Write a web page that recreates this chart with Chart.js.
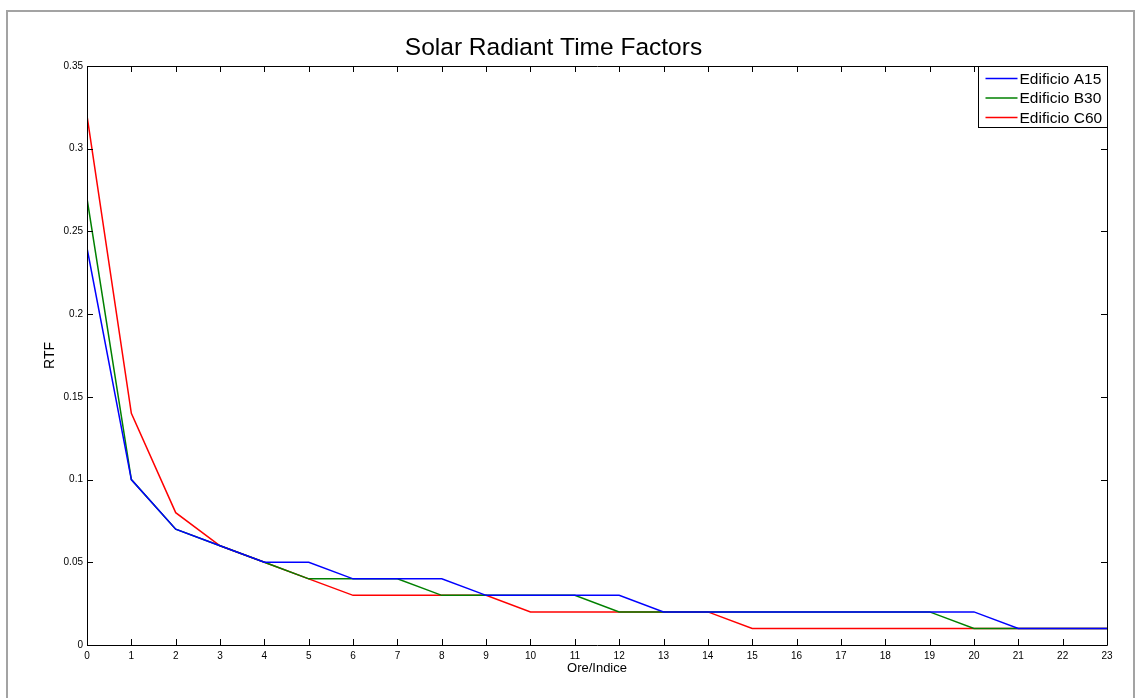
<!DOCTYPE html>
<html>
<head>
<meta charset="utf-8">
<script src="https://cdn.jsdelivr.net/npm/chart.js@4.4.1/dist/chart.umd.min.js"></script>
<style>
    body { margin: 0; background: #fff; }
    #frame { position: absolute; left: 6px; top: 10px; width: 1129px; height: 700px; border: 2px solid #a3a3a3; box-sizing: border-box; }
    #wrap { position: absolute; left: 0; top: 0; width: 1139px; height: 698px; }
</style>
</head>
<body>
<div id="frame"></div>
<div id="wrap"><canvas id="rtfChart" width="1139" height="698"></canvas></div>
<script>
const ore = [0,1,2,3,4,5,6,7,8,9,10,11,12,13,14,15,16,17,18,19,20,21,22,23];
const edificioA15 = [0.24,0.10,0.07,0.06,0.05,0.05,0.04,0.04,0.04,0.03,0.03,0.03,0.03,0.02,0.02,0.02,0.02,0.02,0.02,0.02,0.02,0.01,0.01,0.01];
const edificioB30 = [0.27,0.10,0.07,0.06,0.05,0.04,0.04,0.04,0.03,0.03,0.03,0.03,0.02,0.02,0.02,0.02,0.02,0.02,0.02,0.02,0.01,0.01,0.01,0.01];
const edificioC60 = [0.32,0.14,0.08,0.06,0.05,0.04,0.03,0.03,0.03,0.03,0.02,0.02,0.02,0.02,0.02,0.01,0.01,0.01,0.01,0.01,0.01,0.01,0.01,0.01];
const yTicks = [0, 0.05, 0.1, 0.15, 0.2, 0.25, 0.3, 0.35];

const font = 'Liberation Sans, Arial, sans-serif';

function serie(valori) {
    return ore.map((h, i) => ({ x: h, y: valori[i] }));
}

// box, inward ticks on all sides and legend, matlab style
const matlabBox = {
    id: 'matlabBox',
    afterDatasetsDraw(chart) {
        const ctx = chart.ctx;
        const a = chart.chartArea;
        const xs = chart.scales.x, ys = chart.scales.y;
        ctx.save();
        ctx.strokeStyle = '#000';
        ctx.lineWidth = 1;
        ctx.beginPath();
        ctx.rect(Math.round(a.left) + 0.5, Math.round(a.top) + 0.5, Math.round(a.right - a.left), Math.round(a.bottom - a.top));
        ctx.stroke();
        const len = 6;
        ctx.beginPath();
        ore.forEach(h => {
            const px = Math.round(xs.getPixelForValue(h)) + 0.5;
            ctx.moveTo(px, a.bottom); ctx.lineTo(px, a.bottom - len);
            ctx.moveTo(px, a.top); ctx.lineTo(px, a.top + len);
        });
        yTicks.forEach(v => {
            const py = Math.round(ys.getPixelForValue(v)) + 0.5;
            ctx.moveTo(a.left, py); ctx.lineTo(a.left + len, py);
            ctx.moveTo(a.right, py); ctx.lineTo(a.right - len, py);
        });
        ctx.stroke();

        // legend
        const w = 129, h = 61;
        const lx = Math.round(a.right - w) + 0.5, ly = Math.round(a.top) + 0.5;
        ctx.fillStyle = '#fff';
        ctx.fillRect(lx, ly, w, h);
        ctx.strokeStyle = '#000';
        ctx.strokeRect(lx, ly, w, h);
        ctx.font = '15.5px ' + font;
        ctx.textBaseline = 'middle';
        chart.data.datasets.forEach((ds, i) => {
            const y = ly + 12 + i * 19.5;
            ctx.strokeStyle = ds.borderColor;
            ctx.lineWidth = 1.5;
            ctx.beginPath();
            ctx.moveTo(lx + 7, y); ctx.lineTo(lx + 39, y);
            ctx.stroke();
            ctx.fillStyle = '#000';
            ctx.fillText(ds.label, lx + 41, y + 1);
        });
        ctx.restore();
    }
};

const ctx = document.getElementById('rtfChart').getContext('2d');
new Chart(ctx, {
    type: 'line',
    data: {
        datasets: [
            { label: 'Edificio A15', data: serie(edificioA15), borderColor: '#0000ff', borderWidth: 1.5, pointRadius: 0, tension: 0, fill: false },
            { label: 'Edificio B30', data: serie(edificioB30), borderColor: '#008000', borderWidth: 1.5, pointRadius: 0, tension: 0, fill: false },
            { label: 'Edificio C60', data: serie(edificioC60), borderColor: '#ff0000', borderWidth: 1.5, pointRadius: 0, tension: 0, fill: false }
        ]
    },
    options: {
        responsive: false,
        animation: false,
        layout: { padding: { left: 0, right: 32, top: 0, bottom: 0 } },
        plugins: {
            legend: { display: false },
            tooltip: { enabled: false },
            title: {
                display: true,
                text: 'Solar Radiant Time Factors',
                color: '#000',
                font: { family: font, size: 24.5, weight: 'normal', lineHeight: 1.2 },
                padding: { top: 34, bottom: 2.6 }
            }
        },
        scales: {
            x: {
                type: 'linear',
                min: 0,
                max: 23,
                afterFit: s => { s.height = 53; },
                afterBuildTicks: s => { s.ticks = ore.map(v => ({ value: v })); },
                grid: { display: false, drawTicks: false },
                border: { display: false },
                ticks: { color: '#000', font: { family: font, size: 10 }, padding: 5, maxRotation: 0, autoSkip: false },
                title: { display: true, text: 'Ore/Indice', color: '#000', font: { family: font, size: 13 }, padding: 22 }
            },
            y: {
                min: 0,
                max: 0.35,
                afterFit: s => { s.width = 87; },
                afterBuildTicks: s => { s.ticks = yTicks.map(v => ({ value: v })); },
                grid: { display: false, drawTicks: false },
                border: { display: false },
                ticks: {
                    color: '#000',
                    font: { family: font, size: 10 },
                    padding: 4,
                    callback: v => String(Number(v.toFixed(2)))
                },
                title: { display: true, text: 'RTF', color: '#000', font: { family: font, size: 14 }, padding: 42 }
            }
        }
    },
    plugins: [matlabBox]
});
</script>
</body>
</html>
